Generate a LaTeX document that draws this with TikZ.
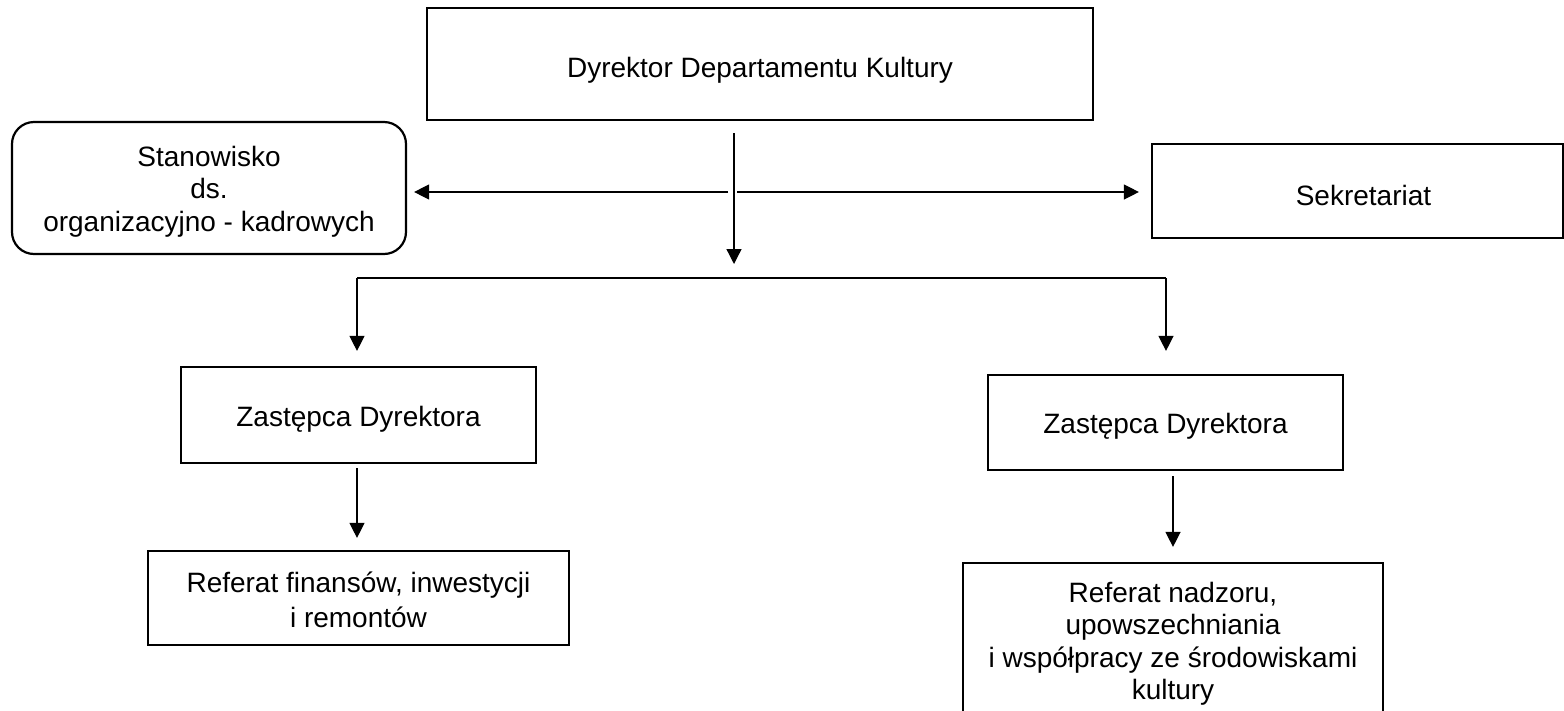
\documentclass[tikz,border=0pt]{standalone}
\usepackage{fontspec}
\setmainfont{Liberation Sans}
\usetikzlibrary{arrows.meta}
\newcommand\mltext[2]{\begin{tabular}{@{}c@{}}\rule{0pt}{#1}#2\end{tabular}}
\begin{document}
\begin{tikzpicture}[x=1pt,y=-1pt,
  box/.style={draw,line width=2.2pt,align=center,inner sep=0pt,font=\fontsize{28}{32.5}\selectfont,
    execute at begin node={\rule{0pt}{28.5pt}}},
  conn/.style={line width=1.3pt,-{Triangle[length=15pt,width=15pt]}},
  plain/.style={line width=1.3pt}]
\clip (0,0) rectangle (1564,710);
\fill[white] (0,0) rectangle (1564,710);
% boxes
\node[box,minimum width=666pt,minimum height=112pt,execute at begin node={\rule{0pt}{32.5pt}}] (dir) at (760,64) {Dyrektor Departamentu Kultury};
\node[box,rounded corners=22pt,minimum width=394pt,minimum height=132pt] (stan) at (209,188) {\mltext{30.75pt}{Stanowisko\\ds.\\organizacyjno - kadrowych}};
\node[box,minimum width=411pt,minimum height=94pt] (sek) at (1357.5,191) {\hspace*{12pt}Sekretariat};
\node[box,minimum width=355pt,minimum height=96pt] (z1) at (358.5,415) {Zastępca Dyrektora};
\node[box,minimum width=355pt,minimum height=95pt] (z2) at (1165.5,422.5) {Zastępca Dyrektora};
\node[box,minimum width=421pt,minimum height=94pt] (r1) at (358.5,598) {\mltext{34.5pt}{Referat finansów, inwestycji\\[2.5pt]i remontów}};
\node[box,minimum width=420pt,minimum height=160pt] (r2) at (1173,643) {\mltext{25.5pt}{Referat nadzoru,\\[-0.5pt]upowszechniania\\[1pt]i współpracy ze środowiskami\\[-0.5pt]kultury}};
% coordinates
\coordinate (s) at (734,133);
\coordinate (t) at (734,264);
\coordinate (jl) at (728,192);
\coordinate (jr) at (737,192);
\coordinate (bl) at (357,278);
\coordinate (br) at (1166,278);
% connectors
\draw[conn] (s) -- (t);
\draw[conn,shorten >=7pt] (jl) -- (stan.east |- jl);
\draw[line width=2pt] (600,192) -- (jl);
\draw[conn,shorten >=12pt] (jr) -- (sek.west |- jr);
\draw[plain] (bl) -- (br);
\draw[conn,shorten >=15pt] (bl) -- (bl |- z1.north);
\draw[conn,shorten >=23pt] (br) -- (br |- z2.north);
\draw[conn,shorten <=4pt,shorten >=12pt] (z1.south -| bl) -- (r1.north -| bl);
\draw[conn,shorten <=5pt,shorten >=15pt] (z2.south -| r2.north) -- (r2.north);
\end{tikzpicture}
\end{document}
